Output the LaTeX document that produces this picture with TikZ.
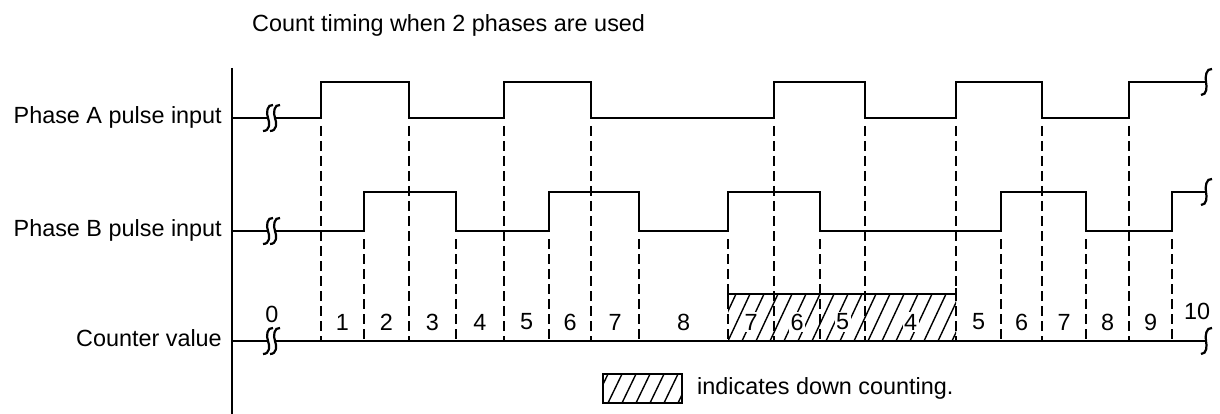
\documentclass[tikz,border=0pt]{standalone}
\usepackage{fontspec}
\setmainfont{Liberation Sans}
\tikzset{
  wave/.style={line width=2.8pt, line join=miter},
  guide/.style={line width=1.8pt, dash pattern=on 10pt off 5pt},
  axisline/.style={line width=2.4pt},
  lbl/.style={font=\fontsize{23.4}{26}\selectfont, inner sep=0pt},
  num/.style={lbl, fill=white, inner sep=1.5pt},
  hatch/.style={line width=1.4pt},
  brk/.pic={
    \draw[line width=2.2pt] (1,-13) .. controls (-5,-14) and (-6,-5) .. (-4,0) .. controls (-2,5) and (-2,13) .. (-9,13);
    \draw[line width=2.2pt] (8,-13) .. controls (2,-14) and (1,-5) .. (3,0) .. controls (5,5) and (5,13) .. (-2,13);
  },
  endbrk/.pic={
    \draw[line width=2.2pt] (7,-13) .. controls (1,-14) and (0,-5) .. (1,0) .. controls (2,5) and (2,13) .. (-4,13);
  }
}
\begin{document}
\begin{tikzpicture}[x=1pt,y=-1pt]
\useasboundingbox (0,0) rectangle (1220,414);
\def\Al{118}\def\Ah{82}\def\Bl{231}\def\Bh{192}\def\Cy{341}

% title and labels
\node[lbl, anchor=west] (title) at (252,25) {Count timing when 2 phases are used};
\node[lbl, anchor=east] (la) at (222,117) {Phase A pulse input};
\node[lbl, anchor=east] (lb) at (222,230) {Phase B pulse input};
\node[lbl, anchor=east] (lc) at (222,338) {Counter value};

% axis
\draw[axisline] (232,68) -- (232,414);

% dashed guides (A transitions)
\foreach \x in {321,409,504,591,774,865,956,1042,1129}
  \draw[guide] (\x,{\Al+8}) -- (\x,\Cy);
% dashed guides (B transitions)
\foreach \x in {364,456,549,639,728,820,1001,1086,1172}
  \draw[guide] (\x,{\Bl+8}) -- (\x,\Cy);

% Phase A
\draw[wave] (232,\Al) -- (268,\Al);
\draw[wave] (275,\Al) -- (321,\Al) -- (321,\Ah) -- (409,\Ah) -- (409,\Al) -- (504,\Al) -- (504,\Ah) -- (591,\Ah) -- (591,\Al)
  -- (774,\Al) -- (774,\Ah) -- (865,\Ah) -- (865,\Al) -- (956,\Al) -- (956,\Ah) -- (1042,\Ah) -- (1042,\Al)
  -- (1129,\Al) -- (1129,\Ah) -- (1205,\Ah);
\pic at (272,\Al) {brk};
\pic at (1205,\Ah) {endbrk};

% Phase B
\draw[wave] (232,\Bl) -- (268,\Bl);
\draw[wave] (275,\Bl) -- (364,\Bl) -- (364,\Bh) -- (456,\Bh) -- (456,\Bl) -- (549,\Bl) -- (549,\Bh) -- (639,\Bh) -- (639,\Bl)
  -- (728,\Bl) -- (728,\Bh) -- (820,\Bh) -- (820,\Bl) -- (1001,\Bl) -- (1001,\Bh) -- (1086,\Bh) -- (1086,\Bl)
  -- (1172,\Bl) -- (1172,\Bh) -- (1205,\Bh);
\pic at (272,\Bl) {brk};
\pic at (1205,\Bh) {endbrk};

% down-counting hatched box
\begin{scope}
  \clip (728,294) rectangle (956,\Cy);
  \foreach \h in {700,714,...,980}
    \draw[hatch] (\h,\Cy) -- ++(22,-47);
\end{scope}
\draw[line width=1.8pt] (728,294) -- (956,294);
\draw[line width=1.8pt] (728,288) -- (728,300);
\draw[line width=1.8pt] (956,288) -- (956,300);

% counter line
\draw[wave] (232,\Cy) -- (268,\Cy);
\draw[wave] (275,\Cy) -- (1205,\Cy);
\pic at (272,\Cy) {brk};
\pic at (1205,\Cy) {endbrk};

% counter values
\node[lbl] (c0) at (272,314) {0};
\node[num] (c1) at (342.5,322) {1};
\node[num] (c2) at (386.5,322) {2};
\node[num] (c3) at (432.5,322) {3};
\node[num] (c4) at (480,322) {4};
\node[num] (c5) at (526.5,322) {5};
\node[num] (c6) at (570,322) {6};
\node[num] (c7) at (615,322) {7};
\node[num] (c8) at (683.5,322) {8};
\node[num] (d7) at (751,322) {7};
\node[num] (d6) at (797,322) {6};
\node[num] (d5) at (842.5,322) {5};
\node[num] (d4) at (910.5,322) {4};
\node[num] (u5) at (978.5,322) {5};
\node[num] (u6) at (1021.5,322) {6};
\node[num] (u7) at (1064,322) {7};
\node[num] (u8) at (1107.5,322) {8};
\node[num] (u9) at (1150.5,322) {9};
\node[lbl] (u10) at (1197,311) {10};

% legend
\begin{scope}
  \clip (603,374) rectangle (682,403);
  \foreach \h in {580,594,...,700}
    \draw[hatch] (\h,403) -- ++(14,-29);
\end{scope}
\draw[line width=1.8pt] (603,374) rectangle (682,403);
\node[lbl, anchor=west] (legend) at (697,388) {indicates down counting.};
\end{tikzpicture}
\end{document}
